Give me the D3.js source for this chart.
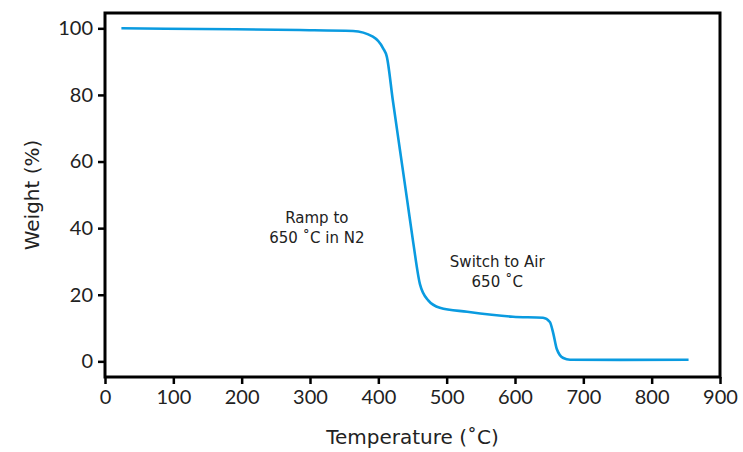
<!DOCTYPE html>
<html>
<head>
<meta charset="utf-8">
<script src="https://cdn.jsdelivr.net/npm/d3@7"></script>
<style>
    body { margin: 0; background: #fff; }
    svg text { fill: #222; }
</style>
</head>
<body>
<div id="chart"></div>
<script>
// TGA curve
const tempC = [24, 139, 285, 363, 392, 407, 412.4, 421.2, 431.7, 442.2, 451.2,
               461, 473, 490, 530, 597, 641, 651, 656, 661, 670.7, 680.5, 754, 854];
const weightPct = [100, 99.8, 99.5, 99.2, 97.5, 94.0, 91.5, 78.4, 63.4, 48.4, 35.5,
                   23.1, 18.3, 16.1, 14.9, 13.4, 13.1, 11.8, 8.4, 3.8, 1.0, 0.5, 0.45, 0.5];
const xTicks = [0, 100, 200, 300, 400, 500, 600, 700, 800, 900];
const yTicks = [0, 20, 40, 60, 80, 100];
const notes = [
    { x: 310, y: 41.5, lines: ['Ramp to', '650 \u02DAC in N2'] },
    { x: 574, y: 28.3, lines: ['Switch to Air', '650 \u02DAC'] }
];

const W = 743, H = 452;
const margin = { top: 13, right: 23, bottom: 75, left: 105 };
const iw = W - margin.left - margin.right;
const ih = H - margin.top - margin.bottom;
const TICK_FONT = '"Lato", "DejaVu Sans", sans-serif';
const TEXT_FONT = '"DejaVu Sans", sans-serif';

const svg = d3.select('#chart').append('svg')
    .attr('width', W)
    .attr('height', H);

const g = svg.append('g').attr('transform', `translate(${margin.left},${margin.top})`);

const x = d3.scaleLinear().domain([0, 900]).range([0, iw]);
const y = d3.scaleLinear().domain([-4.7, 104.6]).range([ih, 0]);

// axes
const xAxis = g.append('g')
    .attr('transform', `translate(0,${ih})`)
    .call(d3.axisBottom(x).tickValues(xTicks).tickSize(7).tickSizeOuter(0).tickPadding(6));
const yAxis = g.append('g')
    .call(d3.axisLeft(y).tickValues(yTicks).tickSize(7).tickSizeOuter(0).tickPadding(5));

for (const ax of [xAxis, yAxis]) {
    ax.select('.domain').remove();
    ax.selectAll('line').attr('stroke', '#000').attr('stroke-width', 2.5);
    ax.selectAll('text')
        .style('font-family', TICK_FONT)
        .style('font-size', '20px')
        .style('fill', '#222');
}

// frame
g.append('rect')
    .attr('width', iw)
    .attr('height', ih)
    .attr('fill', 'none')
    .attr('stroke', '#000')
    .attr('stroke-width', 3);

// curve
const line = d3.line()
    .x((d, i) => x(tempC[i]))
    .y(d => y(d))
    .curve(d3.curveMonotoneX);

g.append('path')
    .datum(weightPct)
    .attr('fill', 'none')
    .attr('stroke', '#0a9be0')
    .attr('stroke-width', 2.6)
    .attr('stroke-linejoin', 'round')
    .attr('d', line);

// annotations
for (const n of notes) {
    const t = g.append('text')
        .attr('text-anchor', 'middle')
        .style('font-family', TEXT_FONT)
        .style('font-size', '15px')
        .attr('transform', `translate(${x(n.x)},${y(n.y)})`);
    n.lines.forEach((s, i) => {
        t.append('tspan').attr('x', 0).attr('dy', i === 0 ? 0 : 20).text(s);
    });
}

// axis titles
svg.append('text')
    .attr('x', margin.left + iw / 2)
    .attr('y', 444)
    .attr('text-anchor', 'middle')
    .style('font-family', TEXT_FONT)
    .style('font-size', '20px')
    .text('Temperature (\u02DAC)');

svg.append('text')
    .attr('transform', `translate(39,${margin.top + ih / 2}) rotate(-90)`)
    .attr('text-anchor', 'middle')
    .style('font-family', TEXT_FONT)
    .style('font-size', '20px')
    .text('Weight (%)');
</script>
</body>
</html>
